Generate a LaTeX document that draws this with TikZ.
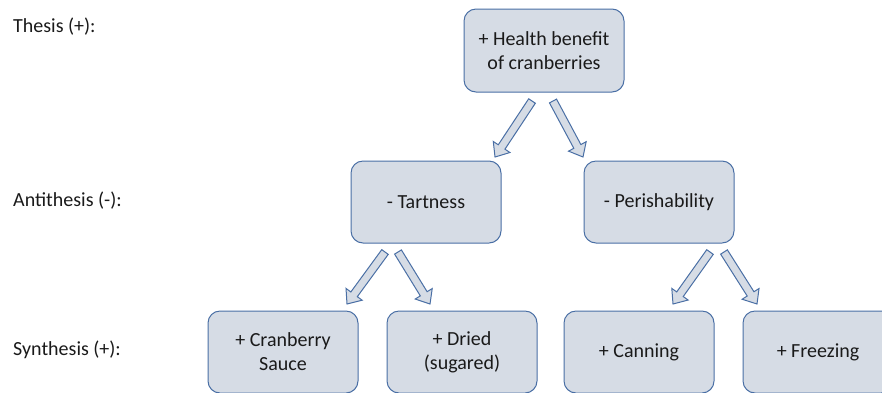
\documentclass[tikz,border=0pt]{standalone}
\usepackage{fontspec}
\setmainfont{Carlito}
\usetikzlibrary{calc}
\definecolor{boxfill}{HTML}{D6DCE5}
\definecolor{boxline}{HTML}{4A6FA5}
\definecolor{txt}{HTML}{1A1A1A}
\tikzset{
  box/.style={draw=boxline, fill=boxfill, line width=1pt, rounded corners=12pt,
    minimum width=150pt, minimum height=82pt, align=center, text=txt,
    font=\fontsize{20}{24}\selectfont, inner sep=2pt},
  lbl/.style={anchor=west, text=txt, font=\fontsize{20}{24}\selectfont, inner sep=0pt},
  barrow/.style={draw=boxline, fill=boxfill, line width=1pt, line join=miter}
}
\newcommand{\blockarrow}[2]{%
  \coordinate (bH) at ($(#2)!12pt!(#1)$);
  \path[barrow] ($(#1)!4pt!90:(#2)$) -- ($(bH)!4pt!-90:(#1)$) -- ($(bH)!10pt!-90:(#1)$)
    -- (#2) -- ($(bH)!10pt!90:(#1)$) -- ($(bH)!4pt!90:(#1)$) -- ($(#1)!4pt!-90:(#2)$) -- cycle;
}
\begin{document}
\begin{tikzpicture}[x=1pt,y=-1pt]
\useasboundingbox (0,0) rectangle (882,392);
\clip (0,0) rectangle (882,392);
\node[lbl] (l1) at (13,27) {Thesis (+):};
\node[lbl] (l2) at (13,201) {Antithesis (-):};
\node[lbl] (l3) at (13,350) {Synthesis (+):};

\node[box, minimum width=160pt, minimum height=83pt] (top) at (544,50.5) {+ Health benefit\\of cranberries};
\node[box] (tart) at (426,202) {- Tartness};
\node[box] (per) at (659,202) {- Perishability};
\node[box] (sauce) at (283,352) {+ Cranberry\\Sauce};
\node[box] (dried) at (462,352) {+ Dried\\(sugared)};
\node[box] (can) at (639,352) {+ Canning};
\node[box] (frz) at (818,352) {+ Freezing};

\coordinate (a1s) at (532,101); \coordinate (a1e) at (495,157);
\coordinate (a2s) at (553,101); \coordinate (a2e) at (583,157);
\coordinate (a3s) at (385,252); \coordinate (a3e) at (347,304);
\coordinate (a4s) at (398,252); \coordinate (a4e) at (430,304);
\coordinate (a5s) at (710,252); \coordinate (a5e) at (673,304);
\coordinate (a6s) at (724,252); \coordinate (a6e) at (757,304);
\blockarrow{a1s}{a1e}
\blockarrow{a2s}{a2e}
\blockarrow{a3s}{a3e}
\blockarrow{a4s}{a4e}
\blockarrow{a5s}{a5e}
\blockarrow{a6s}{a6e}
\end{tikzpicture}
\end{document}
